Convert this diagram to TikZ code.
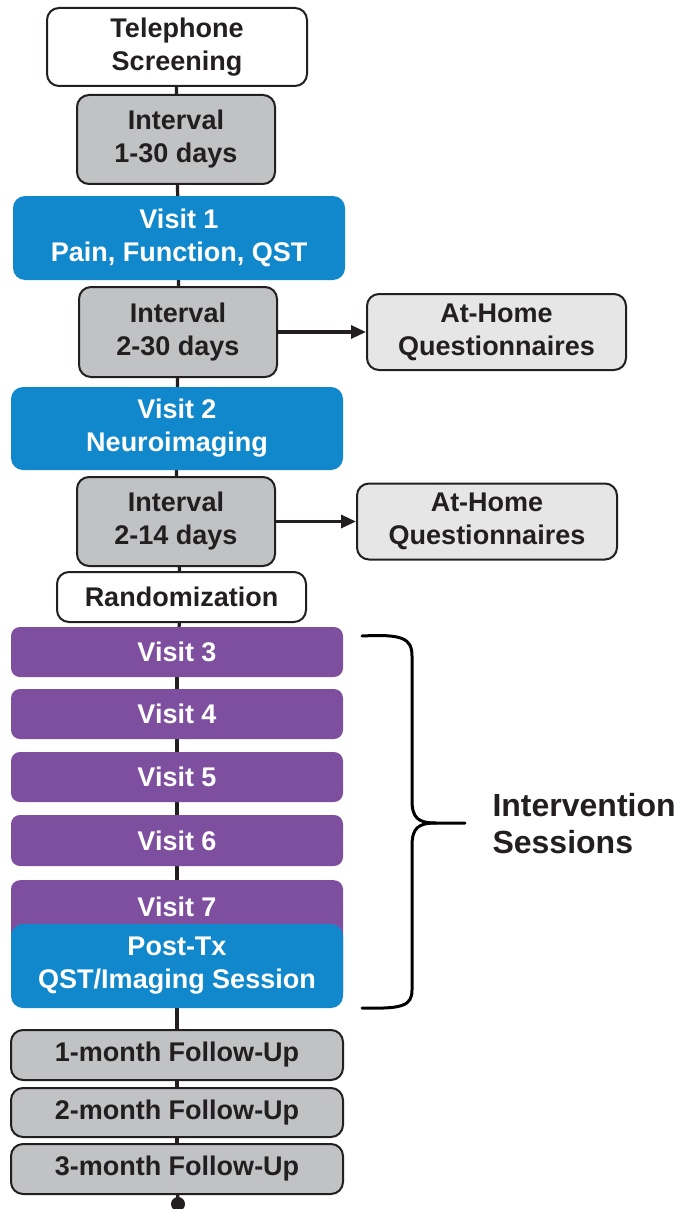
\documentclass[tikz,border=0pt]{standalone}
\usepackage{fontspec}
\setmainfont{Liberation Sans}
\usetikzlibrary{arrows.meta,backgrounds}
\definecolor{cgray}{HTML}{C0C2C3}
\definecolor{clight}{HTML}{E6E6E6}
\definecolor{cblue}{HTML}{1188CC}
\definecolor{cpurple}{HTML}{7F4F9F}
\definecolor{ctext}{HTML}{231F20}
\begin{document}
\begin{tikzpicture}[x=1pt,y=-1pt,
 base/.style={rectangle, rounded corners=12pt, inner sep=0pt, align=center,
   font=\fontsize{27}{33}\selectfont\bfseries, text=ctext},
 whitebox/.style={base, draw=ctext, line width=2pt, fill=white},
 graybox/.style={base, draw=ctext, line width=2pt, fill=cgray},
 homebox/.style={base, draw=ctext, line width=2pt, fill=clight},
 bluebox/.style={base, fill=cblue, text=white},
 purplebox/.style={base, rounded corners=9pt, fill=cpurple, text=white},
 spine/.style={line width=3.2pt, draw=ctext},
 arr/.style={spine, -{Triangle[length=15pt,width=13pt]}},
 brace/.style={line width=3pt, draw=black, line cap=round, line join=round}]
\useasboundingbox (0,0) rectangle (677,1209);

\node[whitebox, minimum width=260pt, minimum height=78pt] (tel) at (177,47) {Telephone\\Screening};
\node[graybox, minimum width=198pt, minimum height=89pt] (int1) at (176,139.5) {Interval\\1-30 days};
\node[bluebox, minimum width=332pt, minimum height=84pt] (v1) at (179,238) {Visit 1\\Pain, Function, QST};
\node[graybox, minimum width=198pt, minimum height=90pt] (int2) at (178,332) {Interval\\2-30 days};
\node[homebox, minimum width=259pt, minimum height=76pt] (home1) at (496.5,332) {At-Home\\Questionnaires};
\node[bluebox, minimum width=332pt, minimum height=83pt] (v2) at (177,428.5) {Visit 2\\Neuroimaging};
\node[graybox, minimum width=198pt, minimum height=89pt] (int3) at (176,521.5) {Interval\\2-14 days};
\node[homebox, minimum width=260pt, minimum height=76pt] (home2) at (487,521.5) {At-Home\\Questionnaires};
\node[whitebox, minimum width=249pt, minimum height=50pt] (rand) at (181.5,597) {Randomization};
\node[purplebox, minimum width=332pt, minimum height=50pt] (v3) at (177,652) {Visit 3};
\node[purplebox, minimum width=332pt, minimum height=50pt] (v4) at (177,714) {Visit 4};
\node[purplebox, minimum width=332pt, minimum height=50pt] (v5) at (177,777) {Visit 5};
\node[purplebox, minimum width=332pt, minimum height=51pt] (v6) at (177,840.5) {Visit 6};
\node[purplebox, anchor=north, minimum width=332pt, text height=36pt, text depth=84pt] (v7) at (177,880) {Visit 7};
\node[bluebox, minimum width=332pt, minimum height=84pt] (post) at (177,966) {Post-Tx\\QST/Imaging Session};
\node[graybox, minimum width=332pt, minimum height=50pt] (f1) at (177,1055) {1-month Follow-Up};
\node[graybox, minimum width=332pt, minimum height=49pt] (f2) at (177,1112.5) {2-month Follow-Up};
\node[graybox, minimum width=332pt, minimum height=50pt] (f3) at (177,1169) {3-month Follow-Up};
\node[circle, fill=ctext, minimum size=14pt, inner sep=0pt] (dot) at (178,1204) {};

\begin{pgfonlayer}{background}
\fill[white] (0,0) rectangle (677,1209);
\foreach \a/\b in {tel/int1,int1/v1,v1/int2,int2/v2,v2/int3,int3/rand,rand/v3,v3/v4,v4/v5,v5/v6,v6/v7,v7/post,post/f1,f1/f2,f2/f3,f3/dot}
  \draw[spine] (\a.center) -- (\b.center);
\end{pgfonlayer}

\draw[arr] (int2.east) -- (home1.west);
\draw[arr] (int3.east) -- (home2.west);

\coordinate (btop) at (362,636);
\coordinate (btip) at (465,823);
\coordinate (bbot) at (362,1008);
\draw[brace] (btop) .. controls (402,634) and (412,638) .. (412,656) -- (412,800)
  .. controls (412,818) and (418,823) .. (436,823) -- (btip);
\draw[brace] (436,823) .. controls (418,823) and (412,828) .. (412,846) -- (412,990)
  .. controls (412,1006) and (402,1009) .. (bbot);
\node[anchor=west, align=left, font=\fontsize{32}{37}\selectfont\bfseries, text=ctext] (lbl) at (489,824) {Intervention\\Sessions};
\end{tikzpicture}
\end{document}
